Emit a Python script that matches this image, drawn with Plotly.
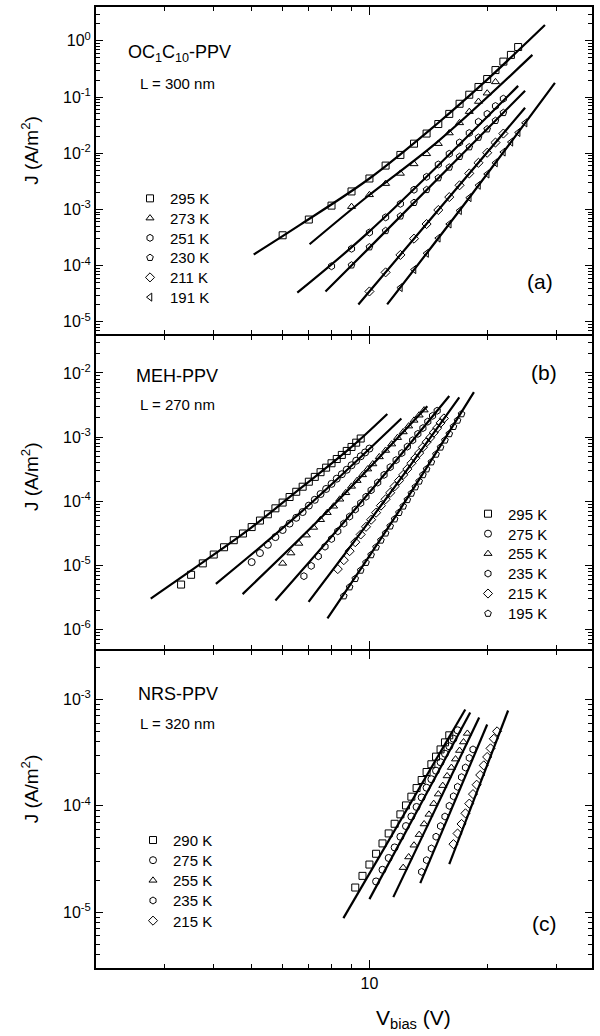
import plotly.graph_objects as go

# ---------------- (a) OC1C10-PPV, L = 300 nm ----------------
a_temps = ["295 K", "273 K", "251 K", "230 K", "211 K", "191 K"]
a_symbols = ["square-open", "triangle-up-open", "hexagon-open",
             "pentagon-open", "diamond-open", "triangle-left-open"]

a_v_295 = [6, 7, 8, 9, 10, 11, 12, 13, 14, 15, 16, 17, 18, 19, 20, 21, 22, 23, 24]
a_j_295 = [3.47e-4, 6.61e-4, 1.17e-3, 2.09e-3, 3.55e-3, 6.03e-3, 9.33e-3, 1.48e-2,
           2.24e-2, 3.31e-2, 5.01e-2, 7.59e-2, 0.110, 0.151, 0.209, 0.302, 0.427,
           0.562, 0.776]
a_v_273 = [9, 10, 11, 12, 13, 14, 15, 16, 17, 18, 19, 20, 21]
a_j_273 = [1.12e-3, 1.82e-3, 2.88e-3, 4.37e-3, 6.46e-3, 9.77e-3, 1.48e-2, 2.29e-2,
           3.47e-2, 5.50e-2, 8.32e-2, 0.117, 0.186]
a_v_251 = [8, 9, 10, 11, 12, 13, 14, 15, 16, 17, 18, 19, 20, 21, 22]
a_j_251 = [9.77e-5, 2.0e-4, 3.89e-4, 7.24e-4, 1.26e-3, 2.24e-3, 3.80e-3, 6.31e-3,
           9.77e-3, 1.55e-2, 2.29e-2, 3.63e-2, 5.01e-2, 6.92e-2, 9.33e-2]
a_v_230 = [9, 10, 11, 12, 13, 14, 15, 16, 17, 18, 19, 20, 21, 22]
a_j_230 = [1.02e-4, 2.14e-4, 4.17e-4, 7.59e-4, 1.32e-3, 2.24e-3, 3.63e-3, 5.62e-3,
           8.71e-3, 1.29e-2, 1.91e-2, 2.69e-2, 3.80e-2, 5.25e-2]
a_v_211 = [10, 11, 12, 13, 14, 15, 16, 17, 18, 19, 20, 21, 22]
a_j_211 = [3.47e-5, 7.59e-5, 1.55e-4, 3.02e-4, 5.50e-4, 9.77e-4, 1.66e-3, 2.69e-3,
           4.37e-3, 6.76e-3, 1.02e-2, 1.55e-2, 2.24e-2]
a_v_191 = [12, 13, 14, 15, 16, 17, 18, 19, 20, 21, 22, 23, 24, 25]
a_j_191 = [4.07e-5, 8.51e-5, 1.66e-4, 3.09e-4, 5.50e-4, 9.55e-4, 1.62e-3, 2.69e-3,
           4.27e-3, 6.76e-3, 1.05e-2, 1.58e-2, 2.34e-2, 3.47e-2]

a_fit_v_295 = [5.06, 6.66, 10.0, 14.9, 20.0, 28.1]
a_fit_j_295 = [1.58e-4, 5.37e-4, 3.55e-3, 3.35e-2, 0.204, 1.91]
a_fit_v_273 = [7.03, 9.88, 14.9, 26.1]
a_fit_j_273 = [2.40e-4, 1.70e-3, 1.58e-2, 0.562]
a_fit_v_251 = [6.54, 10.0, 24.0]
a_fit_j_251 = [3.31e-5, 4.07e-4, 0.158]
a_fit_v_230 = [7.72, 10.0, 25.0]
a_fit_j_230 = [3.47e-5, 2.09e-4, 0.129]
a_fit_v_211 = [9.37, 15.17, 25.0]
a_fit_j_211 = [2.04e-5, 1.07e-3, 6.46e-2]
a_fit_v_191 = [11.1, 18.1, 29.8]
a_fit_j_191 = [2.04e-5, 1.70e-3, 0.178]

# ---------------- (b) MEH-PPV, L = 270 nm ----------------
b_temps = ["295 K", "275 K", "255 K", "235 K", "215 K", "195 K"]
b_symbols = ["square-open", "circle-open", "triangle-up-open",
             "hexagon-open", "diamond-open", "pentagon-open"]

b_v_295 = [3.3, 3.5, 3.75, 4.0, 4.25, 4.5, 4.75, 5.0, 5.25, 5.5, 5.75, 6.0, 6.25,
           6.5, 6.75, 7.0, 7.25, 7.5, 7.75, 8.0, 8.25, 8.5, 8.75, 9.0, 9.25, 9.5]
b_j_295 = [5.0e-6, 7.1e-6, 1.07e-5, 1.47e-5, 1.91e-5, 2.46e-5, 3.13e-5, 3.94e-5,
           4.98e-5, 6.24e-5, 7.73e-5, 9.5e-5, 1.16e-4, 1.40e-4, 1.68e-4, 2.01e-4,
           2.39e-4, 2.83e-4, 3.33e-4, 3.90e-4, 4.54e-4, 5.26e-4, 6.07e-4, 7.0e-4,
           8.17e-4, 9.48e-4]
b_v_275 = [5.0, 5.25, 5.5, 5.75, 6.0, 6.25, 6.5, 6.75, 7.0, 7.25, 7.5, 7.75, 8.0,
           8.25, 8.5, 8.75, 9.0, 9.25, 9.5, 9.75, 10.0]
b_j_275 = [1.12e-5, 1.55e-5, 2.09e-5, 2.75e-5, 3.55e-5, 4.47e-5, 5.50e-5, 6.76e-5,
           8.51e-5, 1.05e-4, 1.29e-4, 1.55e-4, 1.86e-4, 2.24e-4, 2.63e-4, 3.09e-4,
           3.63e-4, 4.27e-4, 5.01e-4, 5.75e-4, 6.61e-4]
b_v_255 = [6.0, 6.3, 6.6, 6.9, 7.2, 7.5, 7.8, 8.1, 8.4, 8.7, 9.0, 9.3, 9.6, 9.9,
           10.2, 10.6, 11.0, 11.4, 11.8, 12.2, 12.6, 13.0, 13.4, 13.8]
b_j_255 = [1.07e-5, 1.55e-5, 2.19e-5, 2.95e-5, 3.89e-5, 5.13e-5, 6.61e-5, 8.32e-5,
           1.07e-4, 1.35e-4, 1.70e-4, 2.09e-4, 2.57e-4, 3.16e-4, 3.80e-4, 4.90e-4,
           6.17e-4, 7.76e-4, 9.77e-4, 1.20e-3, 1.48e-3, 1.82e-3, 2.19e-3, 2.63e-3]
b_v_235 = [6.8, 7.1, 7.4, 7.7, 8.0, 8.3, 8.6, 8.9, 9.2, 9.5, 9.8, 10.1, 10.5, 10.9,
           11.3, 11.7, 12.1, 12.5, 12.9, 13.3, 13.7, 14.1, 14.5, 14.9]
b_j_235 = [6.76e-6, 9.77e-6, 1.38e-5, 1.95e-5, 2.57e-5, 3.39e-5, 4.47e-5, 5.75e-5,
           7.41e-5, 9.33e-5, 1.17e-4, 1.48e-4, 1.95e-4, 2.57e-4, 3.39e-4, 4.37e-4,
           5.62e-4, 7.08e-4, 8.91e-4, 1.12e-3, 1.38e-3, 1.74e-3, 2.14e-3, 2.57e-3]
b_v_215 = [8.3, 8.6, 8.9, 9.2, 9.5, 9.8, 10.1, 10.4, 10.7, 11.0, 11.3, 11.6, 11.9,
           12.2, 12.5, 12.8, 13.1, 13.4, 13.7, 14.0, 14.3, 14.6, 14.9, 15.2, 15.5]
b_j_215 = [8.71e-6, 1.20e-5, 1.66e-5, 2.29e-5, 3.02e-5, 3.98e-5, 5.13e-5, 6.61e-5,
           8.51e-5, 1.07e-4, 1.35e-4, 1.70e-4, 2.09e-4, 2.57e-4, 3.16e-4, 3.89e-4,
           4.68e-4, 5.62e-4, 6.92e-4, 8.32e-4, 9.77e-4, 1.17e-3, 1.38e-3, 1.66e-3,
           1.95e-3]
b_v_195 = [8.6, 8.9, 9.2, 9.5, 9.8, 10.1, 10.4, 10.7, 11.0, 11.3, 11.6, 11.9, 12.2,
           12.5, 12.8, 13.1, 13.4, 13.7, 14.0, 14.4, 14.8, 15.2, 15.6, 16.0, 16.4,
           16.8, 17.2]
b_j_195 = [3.31e-6, 4.57e-6, 6.17e-6, 8.32e-6, 1.10e-5, 1.45e-5, 1.91e-5, 2.45e-5,
           3.16e-5, 4.07e-5, 5.25e-5, 6.61e-5, 8.32e-5, 1.05e-4, 1.32e-4, 1.66e-4,
           2.04e-4, 2.57e-4, 3.16e-4, 4.07e-4, 5.37e-4, 6.92e-4, 8.91e-4, 1.12e-3,
           1.45e-3, 1.82e-3, 2.29e-3]

b_fit_v_295 = [2.76, 3.70, 4.97, 6.66, 8.94, 11.11]
b_fit_j_295 = [3.02e-6, 1.05e-5, 3.80e-5, 1.58e-4, 6.76e-4, 2.29e-3]
b_fit_v_275 = [4.05, 6.66, 12.07]
b_fit_j_275 = [5.13e-6, 6.61e-5, 1.95e-3]
b_fit_v_255 = [4.74, 7.95, 14.06]
b_fit_j_255 = [3.55e-6, 7.76e-5, 3.02e-3]
b_fit_v_235 = [5.75, 9.48, 16.0]
b_fit_j_235 = [2.82e-6, 9.33e-5, 4.37e-3]
b_fit_v_215 = [6.99, 10.67, 16.97]
b_fit_j_215 = [2.69e-6, 8.32e-5, 4.17e-3]
b_fit_v_195 = [7.81, 12.0, 18.5]
b_fit_j_195 = [1.48e-6, 7.59e-5, 5.01e-3]

# ---------------- (c) NRS-PPV, L = 320 nm ----------------
c_temps = ["290 K", "275 K", "255 K", "235 K", "215 K"]
c_symbols = ["square-open", "circle-open", "triangle-up-open",
             "hexagon-open", "diamond-open"]

c_v_290 = [9.2, 9.6, 10.0, 10.4, 10.8, 11.2, 11.6, 12.0, 12.4, 12.8, 13.2, 13.6,
           14.0, 14.4, 14.8, 15.2, 15.6, 16.0]
c_j_290 = [1.71e-5, 2.20e-5, 2.81e-5, 3.55e-5, 4.44e-5, 5.51e-5, 6.79e-5, 8.32e-5,
           1.01e-4, 1.22e-4, 1.47e-4, 1.75e-4, 2.08e-4, 2.46e-4, 2.90e-4, 3.39e-4,
           3.95e-4, 4.60e-4]
c_v_275 = [10.4, 10.8, 11.2, 11.6, 12.0, 12.4, 12.8, 13.2, 13.6, 14.0, 14.4, 14.8,
           15.2, 15.6, 16.0, 16.4, 16.8]
c_j_275 = [1.95e-5, 2.51e-5, 3.24e-5, 4.07e-5, 5.13e-5, 6.46e-5, 7.94e-5, 9.77e-5,
           1.20e-4, 1.48e-4, 1.78e-4, 2.14e-4, 2.57e-4, 3.09e-4, 3.63e-4, 4.27e-4,
           5.13e-4]
c_v_255 = [12.2, 12.6, 13.0, 13.4, 13.8, 14.2, 14.6, 15.0, 15.4, 15.8, 16.2, 16.6,
           17.0, 17.4, 17.8]
c_j_255 = [2.63e-5, 3.31e-5, 4.27e-5, 5.37e-5, 6.76e-5, 8.32e-5, 1.05e-4, 1.29e-4,
           1.55e-4, 1.91e-4, 2.29e-4, 2.75e-4, 3.31e-4, 3.98e-4, 4.79e-4]
c_v_235 = [13.6, 14.0, 14.4, 14.8, 15.2, 15.6, 16.0, 16.4, 16.8, 17.2, 17.6, 18.0, 18.4]
c_j_235 = [2.40e-5, 3.09e-5, 3.98e-5, 5.13e-5, 6.46e-5, 7.94e-5, 1.00e-4, 1.23e-4,
           1.51e-4, 1.86e-4, 2.29e-4, 2.82e-4, 3.39e-4]
c_v_215 = [16.4, 16.8, 17.2, 17.6, 18.0, 18.4, 18.8, 19.2, 19.6, 20.0, 20.4, 20.8, 21.2]
c_j_215 = [4.37e-5, 5.50e-5, 6.76e-5, 8.51e-5, 1.05e-4, 1.29e-4, 1.58e-4, 1.95e-4,
           2.40e-4, 2.88e-4, 3.47e-4, 4.27e-4, 5.01e-4]

c_fit_v_290 = [8.58, 17.58]
c_fit_j_290 = [8.83e-6, 8.04e-4]
c_fit_v_275 = [10.0, 18.1]
c_fit_j_275 = [1.33e-5, 7.53e-4]
c_fit_v_255 = [11.51, 19.08]
c_fit_j_255 = [1.39e-5, 6.76e-4]
c_fit_v_235 = [13.49, 20.0]
c_fit_j_235 = [1.88e-5, 5.81e-4]
c_fit_v_215 = [16.0, 22.62]
c_fit_j_215 = [2.83e-5, 7.87e-4]

# ---------------- figure ----------------
FONT = "Liberation Sans, Arial, Helvetica, sans-serif"
W, H = 600, 1036
ML, MR, MT, MB = 96, 8, 5, 68
plot_w, plot_h = W - ML - MR, H - MT - MB


def px(x):
    return (x - ML) / plot_w


def py(y):
    return (H - MB - y) / plot_h


# key layout per panel: (marker x, first row y, row step) in pixels
panels = [
    dict(ax="1", temps=a_temps, symbols=a_symbols, key=(150, 197, 19.8),
         data=[(a_v_295, a_j_295), (a_v_273, a_j_273), (a_v_251, a_j_251),
               (a_v_230, a_j_230), (a_v_211, a_j_211), (a_v_191, a_j_191)],
         fits=[(a_fit_v_295, a_fit_j_295), (a_fit_v_273, a_fit_j_273),
               (a_fit_v_251, a_fit_j_251), (a_fit_v_230, a_fit_j_230),
               (a_fit_v_211, a_fit_j_211), (a_fit_v_191, a_fit_j_191)]),
    dict(ax="2", temps=b_temps, symbols=b_symbols, key=(488, 513, 20.0),
         data=[(b_v_295, b_j_295), (b_v_275, b_j_275), (b_v_255, b_j_255),
               (b_v_235, b_j_235), (b_v_215, b_j_215), (b_v_195, b_j_195)],
         fits=[(b_fit_v_295, b_fit_j_295), (b_fit_v_275, b_fit_j_275),
               (b_fit_v_255, b_fit_j_255), (b_fit_v_235, b_fit_j_235),
               (b_fit_v_215, b_fit_j_215), (b_fit_v_195, b_fit_j_195)]),
    dict(ax="3", temps=c_temps, symbols=c_symbols, key=(153, 840, 20.2),
         data=[(c_v_290, c_j_290), (c_v_275, c_j_275), (c_v_255, c_j_255),
               (c_v_235, c_j_235), (c_v_215, c_j_215)],
         fits=[(c_fit_v_290, c_fit_j_290), (c_fit_v_275, c_fit_j_275),
               (c_fit_v_255, c_fit_j_255), (c_fit_v_235, c_fit_j_235),
               (c_fit_v_215, c_fit_j_215)]),
]

legend_style = dict(font=dict(family=FONT, size=15, color="black"),
                    bgcolor="rgba(0,0,0,0)", borderwidth=0, xanchor="left",
                    yanchor="middle", itemclick=False, itemdoubleclick=False)

fig = go.Figure()
legends = {}
n_leg = 0
for p in panels:
    xa = "x" if p["ax"] == "1" else "x" + p["ax"]
    ya = "y" if p["ax"] == "1" else "y" + p["ax"]
    for (fv, fj) in p["fits"]:
        fig.add_trace(go.Scatter(x=fv, y=fj, mode="lines", xaxis=xa, yaxis=ya,
                                 line=dict(color="black", width=2.2, shape="spline"),
                                 showlegend=False, hoverinfo="skip"))
    mx, y0, step = p["key"]
    for k, ((dv, dj), name, sym) in enumerate(zip(p["data"], p["temps"], p["symbols"])):
        n_leg += 1
        lname = "legend" if n_leg == 1 else "legend%d" % n_leg
        legends[lname] = dict(legend_style, x=px(mx - 20), y=py(y0 + k * step))
        fig.add_trace(go.Scatter(x=dv, y=dj, mode="markers", name=name,
                                 xaxis=xa, yaxis=ya, legend=lname,
                                 marker=dict(symbol=sym, size=7, color="black",
                                             line=dict(width=1, color="black"))))

axis_common = dict(type="log", showline=True, linecolor="black", linewidth=2,
                   mirror="allticks", ticks="inside", tickcolor="black",
                   tickwidth=1.3, showgrid=False, zeroline=False,
                   tickfont=dict(family=FONT, size=16, color="black"))

x_minor = [3, 4, 5, 6, 7, 8, 9, 20, 30]
x_range = [0.301, 1.569]


def y_ticks(e_lo, e_hi):
    vals = [10.0 ** e for e in range(e_lo, e_hi + 1)]
    text = ["10<sup>%d</sup>" % e for e in range(e_lo, e_hi + 1)]
    minor = [m * 10.0 ** e for e in range(e_lo - 1, e_hi + 1) for m in range(2, 10)]
    return vals, text, minor


# panels touch; the lower panel starts 2 px lower so the shared frame lines coincide
domains = {"1": [py(333), 1.0], "2": [py(648), py(335)], "3": [0.0, py(650)]}
yranges = {"1": [-5.222, 0.602], "2": [-6.301, -1.429], "3": [-5.523, -2.542]}
yexps = {"1": (-5, 0), "2": (-6, -2), "3": (-5, -3)}

layout = dict(width=W, height=H, margin=dict(l=ML, r=MR, t=MT, b=MB),
              paper_bgcolor="white", plot_bgcolor="white",
              font=dict(family=FONT, color="black"))
for k in ["1", "2", "3"]:
    xk = "xaxis" if k == "1" else "xaxis" + k
    yk = "yaxis" if k == "1" else "yaxis" + k
    yv, yt, ym = y_ticks(*yexps[k])
    layout[xk] = dict(axis_common, domain=[0, 1], range=x_range,
                      anchor="y" if k == "1" else "y" + k,
                      tickmode="array", tickvals=[10], ticktext=["10"],
                      ticklen=8, showticklabels=(k == "3"),
                      minor=dict(tickmode="array", tickvals=x_minor, ticks="inside",
                                 ticklen=4, tickcolor="black", tickwidth=1.1))
    if k != "1":
        layout[xk]["matches"] = "x"
    layout[yk] = dict(axis_common, domain=domains[k], range=yranges[k],
                      anchor="x" if k == "1" else "x" + k,
                      tickmode="array", tickvals=yv, ticktext=yt, ticklen=7,
                      minor=dict(tickmode="array", tickvals=ym, ticks="inside",
                                 ticklen=4, tickcolor="black", tickwidth=1.1))
layout.update(legends)
fig.update_layout(**layout)

ann = []


def text(x, y, s, size, anchor="left", angle=0):
    ann.append(dict(x=x, y=y, xref="paper", yref="paper", text=s, showarrow=False,
                    xanchor=anchor, yanchor="middle", textangle=angle,
                    font=dict(family=FONT, size=size, color="black")))


text(px(126), py(52), "OC<sub>1</sub>C<sub>10</sub>-PPV", 18)
text(px(138), py(82), "L = 300 nm", 15)
text(px(134), py(375), "MEH-PPV", 18)
text(px(138), py(403), "L = 270 nm", 15)
text(px(136), py(693), "NRS-PPV", 18)
text(px(138), py(723), "L = 320 nm", 15)
text(px(540), py(280), "(a)", 21, "center")
text(px(544), py(371), "(b)", 21, "center")
text(px(544), py(923), "(c)", 21, "center")
for yc in [149, 476, 789]:
    text(px(30), py(yc), "J (A/m<sup>2</sup>)", 19, "center", -90)
text(px(413), py(1019), "V<sub>bias</sub> (V)", 21, "center")
fig.update_layout(annotations=ann)

fig.write_html("out.html")
